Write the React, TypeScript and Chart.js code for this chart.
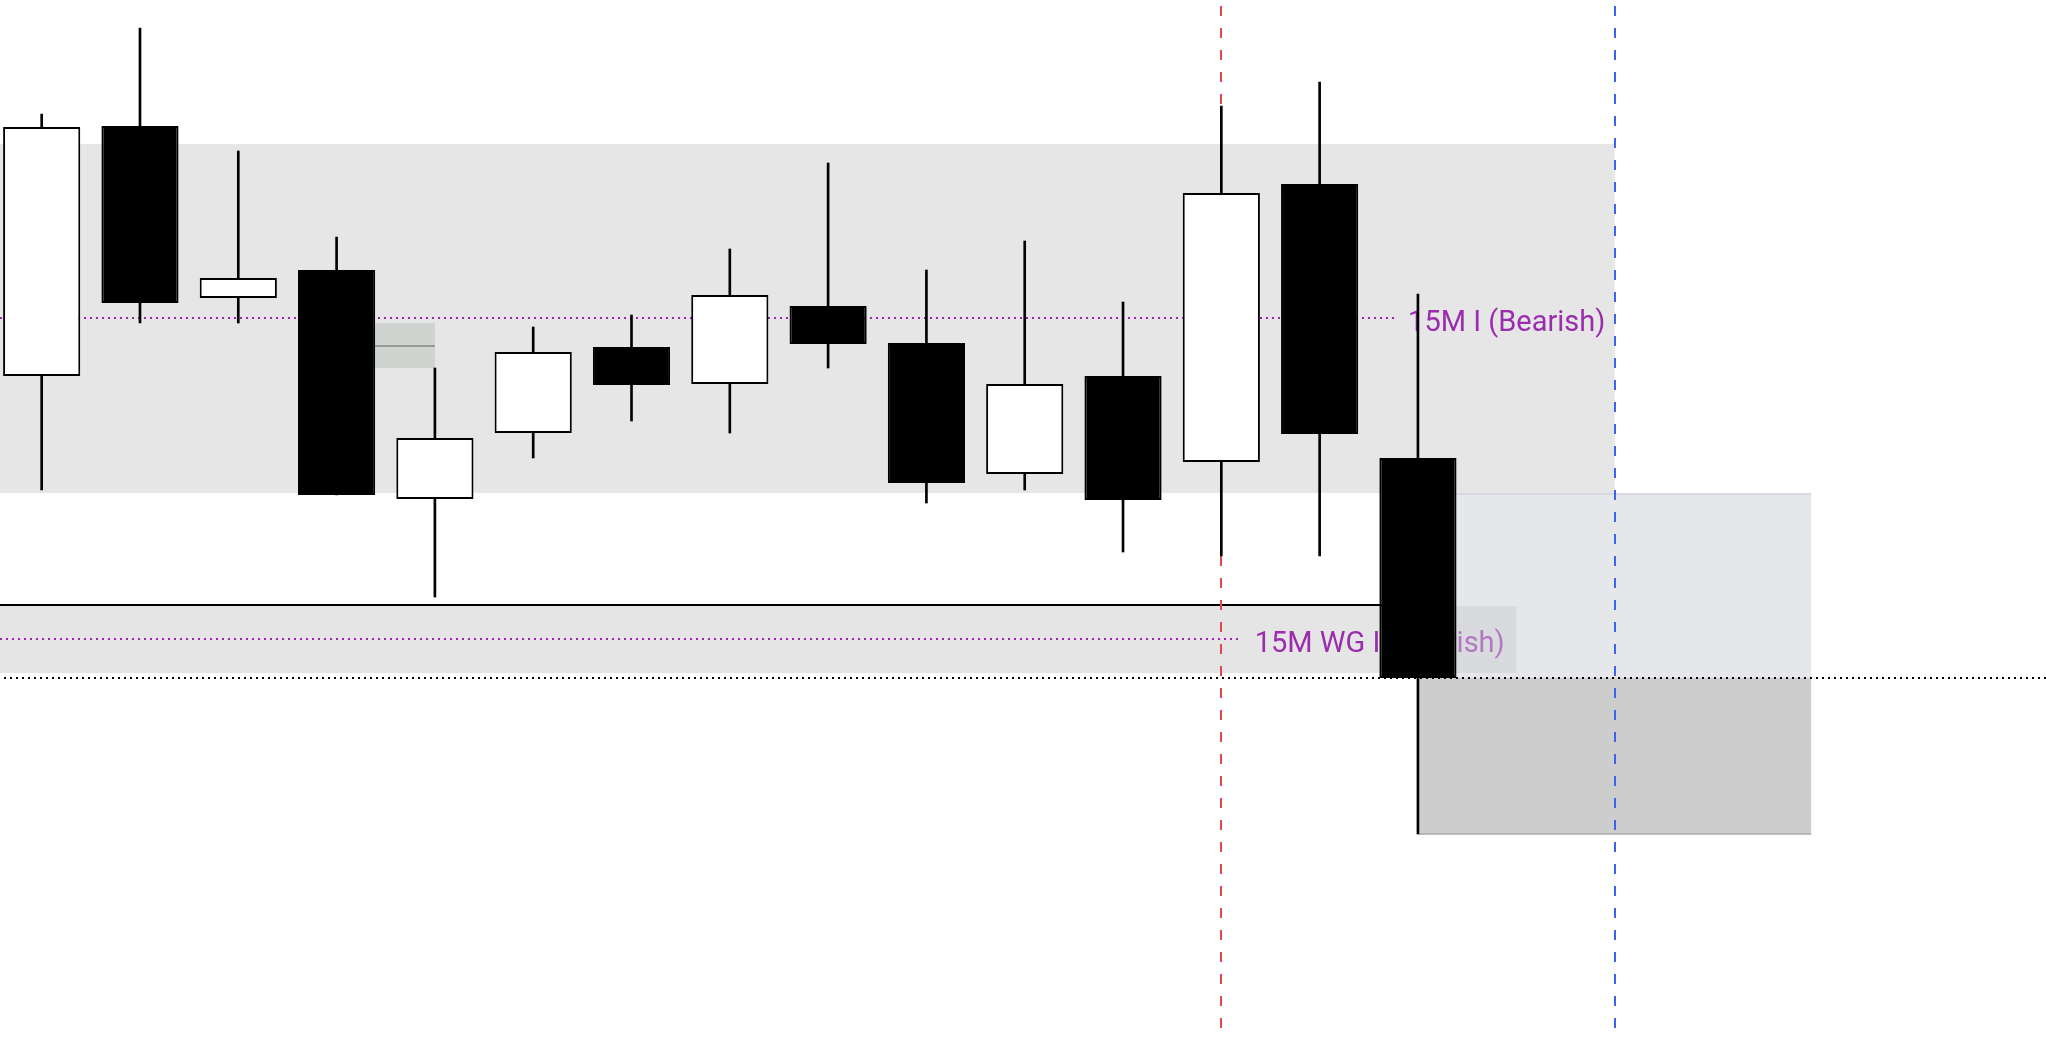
import React, { useEffect, useRef } from "react";
import { Chart, registerables } from "chart.js";

Chart.register(...registerables);

// ---- Candles (15 bars) ----
const CANDLE_X = [0, 1, 2, 3, 4, 5, 6, 7, 8, 9, 10, 11, 12, 13, 14];
const OPEN = [2362.4, 2387.4, 2370.2, 2373.0, 2350.1, 2356.7, 2365.3, 2361.6, 2369.4, 2365.7, 2352.6, 2362.4, 2353.8, 2381.6, 2354.2];
const HIGH = [2388.6, 2397.2, 2384.9, 2376.3, 2363.2, 2367.3, 2368.5, 2375.1, 2383.7, 2373.0, 2375.9, 2369.8, 2389.4, 2391.8, 2370.6];
const LOW = [2351.0, 2367.7, 2367.7, 2350.5, 2340.3, 2354.2, 2357.9, 2356.7, 2363.2, 2349.7, 2351.0, 2344.8, 2344.4, 2344.4, 2316.6];
const CLOSE = [2387.3, 2369.7, 2372.2, 2350.5, 2356.2, 2364.8, 2361.5, 2370.5, 2365.6, 2351.7, 2361.6, 2350.0, 2380.7, 2356.6, 2332.2];

// ---- Axis ranges ----
const X_MIN = -0.424;
const X_MAX = 20.389;
const Y_MIN = 2296;
const Y_MAX = 2400;

// ---- Range zones (gray bands) ----
const ZONE_FROM = [-1, -1];
const ZONE_TO = [16, 15];
const ZONE_HIGH = [2385.6, 2339.4];
const ZONE_LOW = [2350.7, 2332.7];

// ---- Projection boxes ----
const BOX_FROM = [14, 14];
const BOX_TO = [18, 18];
const BOX_HIGH = [2350.7, 2332.2];
const BOX_LOW = [2332.2, 2316.6];

// ---- Fair value gap ----
const FVG_FROM = [3];
const FVG_TO = [4];
const FVG_HIGH = [2367.7];
const FVG_LOW = [2363.2];

// ---- Labelled levels ----
const LEVEL_LABELS = ["15M I (Bearish)", "15M WG I (Bearish)"];
const LEVEL_PRICE = [2368.2, 2336.1];
const LEVEL_END = [13.76, 12.18];
const LEVEL_LABEL_X = [13.9, 12.34];

// ---- Other horizontal lines ----
const SOLID_LINE_PRICE = [2339.5];
const SOLID_LINE_TO = [14];
const DOTTED_LINE_PRICE = [2332.2];

// ---- Vertical markers ----
const MARKER_X = [12, 16];

const overlayPlugin = {
  id: "overlay",
  beforeDatasetsDraw(chart: any) {
    const { ctx, chartArea } = chart;
    const xs = chart.scales.x;
    const ys = chart.scales.y;
    const px = (v: number) => xs.getPixelForValue(v);
    const py = (v: number) => ys.getPixelForValue(v);
    ctx.save();
    ctx.beginPath();
    ctx.rect(chartArea.left, chartArea.top, chartArea.right - chartArea.left, chartArea.bottom - chartArea.top);
    ctx.clip();

    // zones
    const zoneColors = ["#e6e6e6", "rgba(0,0,0,0.1)"];
    for (let i = 0; i < ZONE_FROM.length; i++) {
      const x0 = px(ZONE_FROM[i]);
      const x1 = px(ZONE_TO[i]);
      const y0 = py(ZONE_HIGH[i]);
      const y1 = py(ZONE_LOW[i]);
      ctx.fillStyle = zoneColors[i];
      ctx.fillRect(x0, y0, x1 - x0, y1 - y0);
    }

    // labelled purple dotted levels
    ctx.strokeStyle = "#9c27b0";
    ctx.lineWidth = 2;
    ctx.setLineDash([2, 4]);
    for (let i = 0; i < LEVEL_PRICE.length; i++) {
      const y = Math.round(py(LEVEL_PRICE[i]));
      ctx.beginPath();
      ctx.moveTo(chartArea.left, y);
      ctx.lineTo(px(LEVEL_END[i]), y);
      ctx.stroke();
    }
    ctx.setLineDash([]);
    ctx.fillStyle = "#9a2cae";
    ctx.font = "29px Roboto, 'Liberation Sans', sans-serif";
    ctx.textAlign = "left";
    ctx.textBaseline = "alphabetic";
    for (let i = 0; i < LEVEL_LABELS.length; i++) {
      ctx.fillText(LEVEL_LABELS[i], px(LEVEL_LABEL_X[i]), py(LEVEL_PRICE[i]) + 13);
    }

    // solid black line
    ctx.strokeStyle = "#000";
    ctx.lineWidth = 2;
    for (let i = 0; i < SOLID_LINE_PRICE.length; i++) {
      const y = Math.round(py(SOLID_LINE_PRICE[i]));
      ctx.beginPath();
      ctx.moveTo(chartArea.left, y);
      ctx.lineTo(px(SOLID_LINE_TO[i]), y);
      ctx.stroke();
    }

    // projection boxes
    const boxFill = ["rgba(203,205,213,0.48)", "#cdcdcd"];
    for (let i = 0; i < BOX_FROM.length; i++) {
      const x0 = px(BOX_FROM[i]);
      const x1 = px(BOX_TO[i]);
      const y0 = py(BOX_HIGH[i]);
      const y1 = py(BOX_LOW[i]);
      ctx.fillStyle = boxFill[i];
      ctx.fillRect(x0, y0, x1 - x0, y1 - y0);
    }
    // box borders
    ctx.lineWidth = 1.5;
    ctx.strokeStyle = "#d4d5db";
    ctx.beginPath();
    ctx.moveTo(px(BOX_FROM[0]), py(BOX_HIGH[0]) + 1);
    ctx.lineTo(px(BOX_TO[0]), py(BOX_HIGH[0]) + 1);
    ctx.stroke();
    ctx.strokeStyle = "#aaaaaa";
    ctx.beginPath();
    ctx.moveTo(px(BOX_FROM[1]), py(BOX_LOW[1]));
    ctx.lineTo(px(BOX_TO[1]), py(BOX_LOW[1]));
    ctx.stroke();

    // FVG
    for (let i = 0; i < FVG_FROM.length; i++) {
      const x0 = px(FVG_FROM[i]);
      const x1 = px(FVG_TO[i]);
      const y0 = py(FVG_HIGH[i]);
      const y1 = py(FVG_LOW[i]);
      ctx.fillStyle = "#d0d4d0";
      ctx.fillRect(x0, y0, x1 - x0, y1 - y0);
      ctx.strokeStyle = "#969a96";
      ctx.lineWidth = 2;
      const ym = Math.round(py((FVG_HIGH[i] + FVG_LOW[i]) / 2));
      ctx.beginPath();
      ctx.moveTo(x0, ym);
      ctx.lineTo(x1, ym);
      ctx.stroke();
    }

    // black dotted line
    ctx.strokeStyle = "#000";
    ctx.lineWidth = 2;
    ctx.setLineDash([2, 4]);
    ctx.lineDashOffset = 2;
    for (let i = 0; i < DOTTED_LINE_PRICE.length; i++) {
      const y = Math.round(py(DOTTED_LINE_PRICE[i]));
      ctx.beginPath();
      ctx.moveTo(chartArea.left, y);
      ctx.lineTo(chartArea.right, y);
      ctx.stroke();
    }

    // vertical dashed markers
    const markerColors = ["#e0474f", "#3d62ee"];
    ctx.setLineDash([10, 12]);
    ctx.lineDashOffset = 16;
    for (let i = 0; i < MARKER_X.length; i++) {
      const x = Math.round(px(MARKER_X[i]));
      ctx.strokeStyle = markerColors[i];
      ctx.beginPath();
      ctx.moveTo(x, chartArea.top);
      ctx.lineTo(x, chartArea.bottom);
      ctx.stroke();
    }
    ctx.restore();
  },
};

export default function App() {
  const canvasRef = useRef<HTMLCanvasElement | null>(null);

  useEffect(() => {
    const canvas = canvasRef.current;
    if (!canvas) return;
    const wicks = CANDLE_X.map((x, i) => ({ x, y: [LOW[i], HIGH[i]] }));
    const bodies = CANDLE_X.map((x, i) => ({ x, y: [OPEN[i], CLOSE[i]] }));
    const bodyColors = CANDLE_X.map((_, i) => (CLOSE[i] >= OPEN[i] ? "#ffffff" : "#000000"));

    const chart = new Chart(canvas, {
      type: "bar",
      data: {
        datasets: [
          {
            label: "wicks",
            data: wicks as any,
            backgroundColor: "#000000",
            borderWidth: 0,
            barThickness: 2,
            grouped: false,
            order: 2,
          } as any,
          {
            label: "bodies",
            data: bodies as any,
            backgroundColor: bodyColors,
            borderColor: "#000000",
            borderWidth: 2,
            borderSkipped: false,
            barPercentage: 0.785,
            categoryPercentage: 1,
            grouped: false,
            order: 1,
          } as any,
        ],
      },
      options: {
        responsive: false,
        animation: false,
        events: [],
        layout: { padding: 0 },
        plugins: {
          legend: { display: false },
          tooltip: { enabled: false },
          title: { display: false },
        },
        scales: {
          x: { type: "linear", min: X_MIN, max: X_MAX, display: false, offset: false },
          y: { type: "linear", min: Y_MIN, max: Y_MAX, display: false },
        },
      } as any,
      plugins: [overlayPlugin],
    });
    return () => chart.destroy();
  }, []);

  return (
    <div style={{ position: "fixed", left: 0, top: 0, width: 2046, height: 1040, background: "#ffffff" }}>
      <canvas ref={canvasRef} width={2046} height={1040} style={{ display: "block" }} />
    </div>
  );
}
